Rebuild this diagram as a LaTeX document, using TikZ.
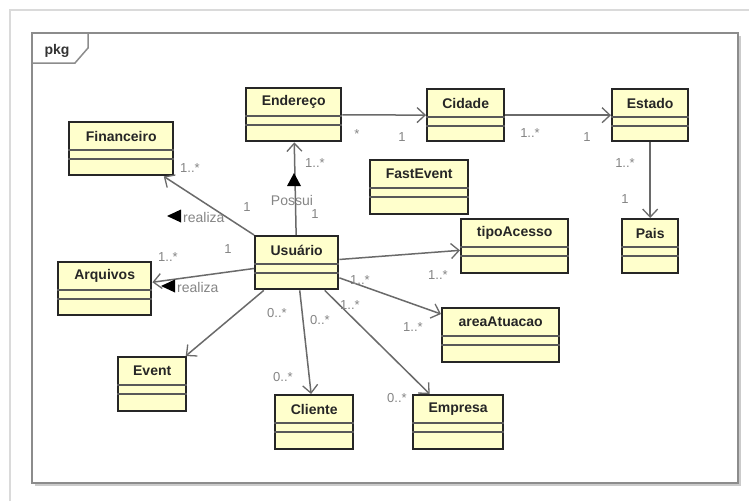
\documentclass[tikz,border=0pt]{standalone}
\usepackage{fontspec}
\setmainfont{Liberation Sans}
\usetikzlibrary{arrows.meta}
\definecolor{clsfill}{HTML}{FFFFCC}
\definecolor{lbl}{HTML}{858585}
\definecolor{frm}{HTML}{8C8C8C}
\definecolor{outerc}{HTML}{DADADA}
\definecolor{conn}{HTML}{6A6A6A}
\newcommand{\umlcls}[6]{%
  \node[clsbox, minimum width={(#4-#2)*1pt}, minimum height={(#5-#3)*1pt}, anchor=north west] (#1) at (#2,#3) {};
  \draw[comp] ([yshift=-29pt]#1.north west) -- ([yshift=-29pt]#1.north east);
  \draw[comp] ([yshift=-38pt]#1.north west) -- ([yshift=-38pt]#1.north east);
  \node[clsname] (#1t) at ([yshift=-15pt]#1.north) {#6};
}
\begin{document}
\begin{tikzpicture}[x=1pt,y=-1pt,
  clsbox/.style={draw=black!85, line width=2.4pt, fill=clsfill, inner sep=0pt},
  comp/.style={draw=black!65, line width=1.3pt},
  clsname/.style={font=\fontsize{14}{16}\selectfont\bfseries, text=black!85, inner sep=0pt},
  mult/.style={font=\fontsize{13}{15}\selectfont, text=lbl, inner sep=0pt},
  rolelbl/.style={font=\fontsize{14}{16}\selectfont, text=lbl, inner sep=0pt},
  assoc/.style={draw=conn, line width=1.5pt},
  nav/.style={assoc, -{Straight Barb[length=8pt, width=15pt, line width=1.3pt]}},
  ]
\useasboundingbox (0,0) rectangle (749,501);
\fill[white] (0,0) rectangle (749,501);
% outer frame
\draw[outerc, line width=2pt] (10,501) -- (10,10) -- (749,10);
% package frame
\draw[frm!45, line width=2pt] (740,36) -- (740,485) -- (35,485);
\draw[frm, line width=1.5pt] (32,33) rectangle (738,483);
\draw[frm, line width=1.5pt] (32,63) -- (75,63) -- (88,48) -- (88,33);
\node[font=\fontsize{14}{16}\selectfont\bfseries, text=black!80, inner sep=0pt] (pkg) at (57,51) {pkg};

% classes
\umlcls{Fin}{68}{121}{172}{174}{Financeiro}
\umlcls{End}{245}{87}{340}{140}{Endereço}
\umlcls{Cid}{426}{88}{503}{140}{Cidade}
\umlcls{Est}{611}{88}{687}{140}{Estado}
\umlcls{Fas}{369}{159}{467}{213}{FastEvent}
\umlcls{Tip}{460}{218}{567}{272}{tipoAcesso}
\umlcls{Pai}{621}{218}{677}{272}{Pais}
\umlcls{Usu}{254}{235}{337}{288}{Usuário}
\umlcls{Arq}{57}{261}{150}{314}{Arquivos}
\umlcls{Eve}{117}{356}{185}{410}{Event}
\umlcls{Cli}{274}{394}{352}{448}{Cliente}
\umlcls{Are}{441}{307}{558}{361}{areaAtuacao}
\umlcls{Emp}{412}{394}{502}{448}{Empresa}

% connectors
\draw[nav] (End) -- (Cid);
\draw[nav] (Cid) -- (Est);
\draw[nav] (Est) -- (Pai);
\draw[nav] (Usu) -- (End);
\draw[nav] (Usu) -- (Fin);
\draw[nav] (Usu) -- (Arq);
\draw[nav] (Usu) -- (Tip);
\draw[nav] (Usu) -- (Are);
\draw[nav] (Usu) -- (Emp);
\draw[nav] (Usu) -- (Cli);
\draw[nav] (Usu) -- (Eve);

% direction triangles
\fill[black] (294,173) -- (287,186) -- (301,186) -- cycle;
\fill[black] (167,216) -- (181,209.5) -- (181,222.5) -- cycle;
\fill[black] (161,286) -- (175,279.5) -- (175,292.5) -- cycle;

% association names
\node[rolelbl] (lPossui) at (292,200) {Possui};
\node[rolelbl, anchor=west] (lReal1) at (183,217) {realiza};
\node[rolelbl, anchor=west] (lReal2) at (177,287) {realiza};

% multiplicities
\node[mult] (m1) at (357,134) {*};
\node[mult] (m2) at (402,137) {1};
\node[mult] (m3) at (530,133) {1..*};
\node[mult] (m4) at (587,137) {1};
\node[mult] (m5) at (625,163) {1..*};
\node[mult] (m6) at (625,199) {1};
\node[mult] (m7) at (315,163) {1..*};
\node[mult] (m8) at (315,214) {1};
\node[mult] (m9) at (190,168) {1..*};
\node[mult] (m10) at (247,207) {1};
\node[mult] (m11) at (168,257) {1..*};
\node[mult] (m12) at (228,249) {1};
\node[mult] (m13) at (438,275) {1..*};
\node[mult] (m14) at (360,280) {1..*};
\node[mult] (m15) at (413,327) {1..*};
\node[mult] (m16) at (350,305) {1..*};
\node[mult] (m17) at (397,398) {0..*};
\node[mult] (m18) at (277,313) {0..*};
\node[mult] (m19) at (320,320) {0..*};
\node[mult] (m20) at (283,377) {0..*};
\end{tikzpicture}
\end{document}
